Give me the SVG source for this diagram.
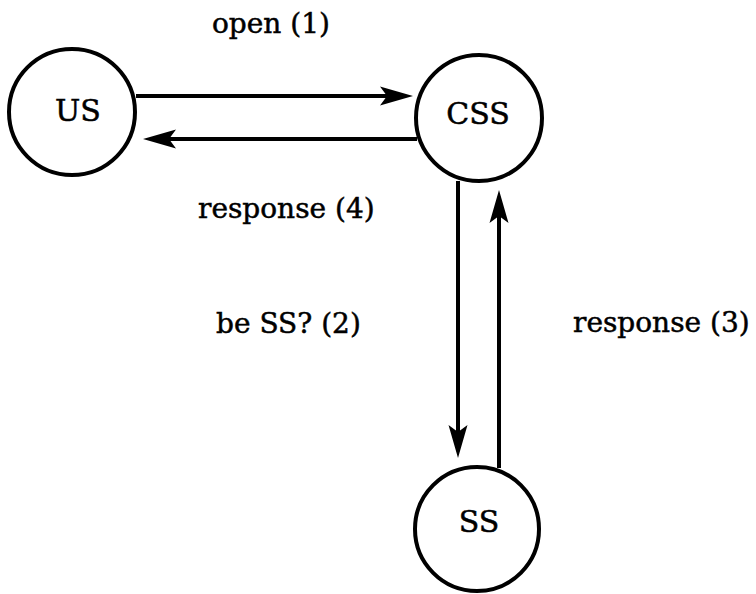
<svg xmlns="http://www.w3.org/2000/svg" width="756" height="594" viewBox="0 0 756 594">
<defs>
<style>
.node circle{fill:#fff;stroke:#000;stroke-width:4}
.node text{font-family:"DejaVu Serif","Liberation Serif",serif;font-size:30px;text-anchor:middle;fill:#000;stroke:#000;stroke-width:0.5}
.lbl{font-family:"DejaVu Serif","Liberation Serif",serif;font-size:28px;fill:#000;stroke:#000;stroke-width:0.5}
.conn line{stroke:#000;stroke-width:4;fill:none}
</style>
<marker id="arr" markerUnits="userSpaceOnUse" markerWidth="36" markerHeight="24" viewBox="0 -12 36 24" refX="12" refY="0" orient="auto">
<path d="M33,0 L0,-9.5 L7,0 L0,9.5 Z" fill="#000"/>
</marker>
</defs>
<rect width="756" height="594" fill="#fff"/>
<g id="connectors" class="conn">
<line x1="136" y1="96" x2="392" y2="96" marker-end="url(#arr)"/>
<line x1="417" y1="139" x2="164" y2="139" marker-end="url(#arr)"/>
<line x1="458" y1="181" x2="458" y2="437" marker-end="url(#arr)"/>
<line x1="499" y1="468" x2="499" y2="211" marker-end="url(#arr)"/>
</g>
<g id="node-US" class="node">
<circle cx="72" cy="112" r="63"/>
<text x="78" y="121">US</text>
</g>
<g id="node-CSS" class="node">
<circle cx="479" cy="118" r="63"/>
<text x="478" y="124">CSS</text>
</g>
<g id="node-SS" class="node">
<circle cx="477" cy="529" r="62"/>
<text x="479" y="532">SS</text>
</g>
<g id="labels">
<text class="lbl" x="212" y="33">open (1)</text>
<text class="lbl" x="198" y="218">response (4)</text>
<text class="lbl" x="216" y="333">be SS? (2)</text>
<text class="lbl" x="573" y="332">response (3)</text>
</g>
</svg>
